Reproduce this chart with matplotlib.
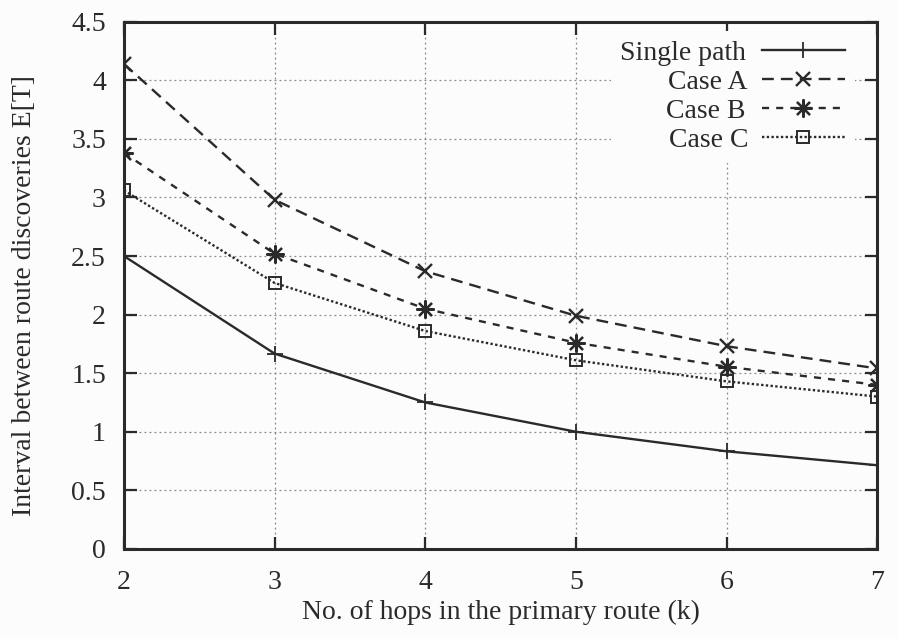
import matplotlib.pyplot as plt
import numpy as np

plt.rcParams['font.family'] = ['Liberation Serif', 'DejaVu Serif']

# Data
hops = [2, 3, 4, 5, 6, 7]
single_path = [2.50, 1.667, 1.25, 1.00, 0.833, 0.714]
case_a = [4.14, 2.98, 2.37, 1.99, 1.73, 1.54]
case_b = [3.38, 2.52, 2.05, 1.76, 1.555, 1.40]
case_c = [3.06, 2.27, 1.86, 1.61, 1.43, 1.30]
x_ticks = [2, 3, 4, 5, 6, 7]
y_ticks = [0, 0.5, 1, 1.5, 2, 2.5, 3, 3.5, 4, 4.5]

ink = '#2a2a2a'
bg = '#fcfcfc'
fs = 20

fig = plt.figure(figsize=(8.98, 6.39), dpi=100, facecolor=bg)
ax = fig.add_axes([0.138, 0.141, 0.839, 0.825])
ax.set_facecolor(bg)

ax.plot(hops, single_path, color=ink, lw=1.7, ls='-', marker='+', ms=12,
        mew=1.3, label='Single path')
ax.plot(hops, case_a, color=ink, lw=1.7, ls=(0, (5, 3)), marker='x', ms=10,
        mew=1.7, label='Case A')
ax.plot(hops, case_b, color=ink, lw=1.7, ls=(0, (3, 3)), marker=(8, 2, 0),
        ms=13, mew=1.6, label='Case B')
ax.plot(hops, case_c, color=ink, lw=1.7, ls=(0, (1, 1)), marker='s', ms=8.5,
        mfc='none', mew=1.4, label='Case C')

ax.set_xlim(2, 7)
ax.set_ylim(0, 4.5)
ax.set_xticks(x_ticks)
ax.set_yticks(y_ticks)
ax.set_yticklabels([f'{v:g}' for v in y_ticks])
ax.grid(True, color='#888888', ls=(0, (1.5, 2.5)), lw=0.9)
ax.tick_params(direction='in', length=9, width=1.6, top=True, right=True,
               labelsize=fs, colors=ink)
ax.tick_params(axis='y', pad=13)
ax.tick_params(axis='x', pad=15)
for s in ax.spines.values():
    s.set_linewidth(2.2)
    s.set_color(ink)

ax.set_xlabel('No. of hops in the primary route (k)', fontsize=fs, color=ink,
              labelpad=4)
ax.set_ylabel('Interval between route discoveries E[T]', fontsize=fs,
              color=ink)
ax.yaxis.set_label_coords(-0.116, 0.481)

# gnuplot-style key: labels right-aligned, sample lines on the right
gap = 0.55
leg = ax.legend(loc='upper right', bbox_to_anchor=(0.979, 0.996),
                markerfirst=False, frameon=True,
                fontsize=fs, handlelength=3.0, handletextpad=gap,
                labelspacing=0.13, borderaxespad=0.25, borderpad=0.35)
leg.get_frame().set_edgecolor('none')
leg.get_frame().set_facecolor(bg)
leg.get_frame().set_alpha(1)
for t in leg.get_texts():
    t.set_alpha(0)

fig.canvas.draw()
renderer = fig.canvas.get_renderer()
pad_px = 0.25 * fs * fig.dpi / 72
for t, ln in zip(leg.get_texts(), leg.get_lines()):
    tb = t.get_window_extent(renderer)
    lb = ln.get_window_extent(renderer)
    x_right = lb.x0 - pad_px
    y_mid = (tb.y0 + tb.y1) / 2
    fig.text(x_right / fig.bbox.width, y_mid / fig.bbox.height, t.get_text(),
             ha='right', va='center', fontsize=fs, color=ink, zorder=10)

fig.savefig('out.png', dpi=100, facecolor=fig.get_facecolor())
